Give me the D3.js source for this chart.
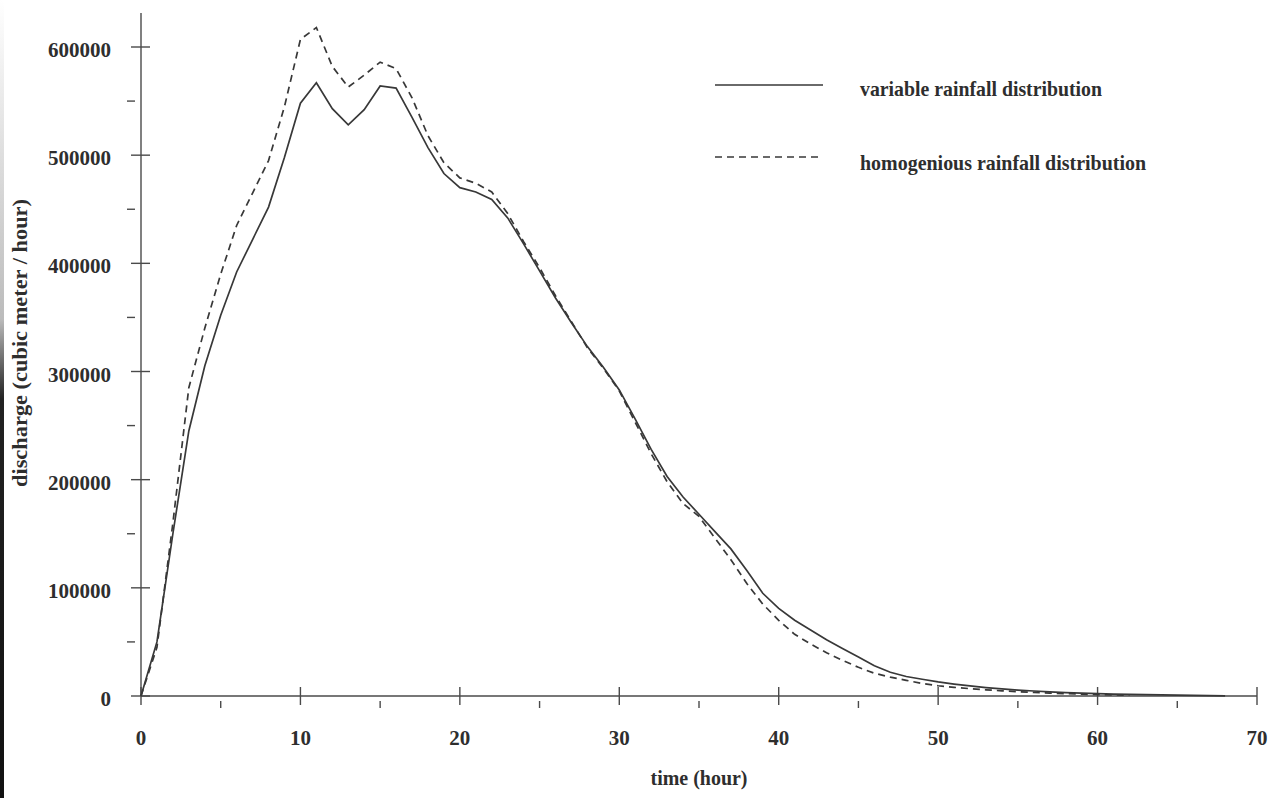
<!DOCTYPE html>
<html>
<head>
<meta charset="utf-8">
<script src="https://cdn.jsdelivr.net/npm/d3@7"></script>
<style>
  html, body { margin: 0; padding: 0; background: #fff; }
  svg { display: block; }
  text { font-family: "Liberation Serif", "DejaVu Serif", serif; fill: #2e2e2e; }
</style>
</head>
<body>
<svg id="chart" width="1282" height="798"></svg>
<script>
// ---- data ----
const hours = d3.range(0, 69);
const variableRain = [
  0, 50000, 150000, 245000, 305000, 352000, 392000, 422000, 452000, 498000,
  548000, 567000, 543000, 528000, 542000, 564000, 562000, 535000, 507000, 483000,
  470000, 466000, 459000, 442000, 418000, 393000, 368000, 345000, 323000, 304000,
  283000, 256000, 228000, 203000, 184000, 168000, 152000, 136000, 116000, 95000,
  81000, 70000, 61000, 52000, 44000, 36000, 28000, 22000, 18000, 15500,
  13000, 11000, 9300, 7800, 6500, 5500, 4600, 3800, 3100, 2600,
  2200, 1800, 1500, 1200, 1000, 800, 600, 400, 200
];
const homogeneousRain = [
  0, 45000, 160000, 285000, 340000, 390000, 435000, 465000, 495000, 545000,
  607000, 618000, 582000, 563000, 574000, 586000, 580000, 553000, 518000, 493000,
  479000, 474000, 466000, 446000, 420000, 396000, 370000, 346000, 322000, 303000,
  282000, 253000, 224000, 198000, 178000, 166000, 146000, 126000, 104000, 85000,
  70000, 57000, 48000, 40000, 33000, 26500, 21000, 17500, 14500, 11500,
  9500, 8000, 6800, 5700, 4800, 4000, 3300, 2700, 2200, 1700,
  1300, 1000, 700
];
const xMajorTicks = [0, 10, 20, 30, 40, 50, 60, 70];
const xMinorTicks = [5, 15, 25, 35, 45, 55, 65];
const yMajorTicks = [0, 100000, 200000, 300000, 400000, 500000, 600000];
const yMinorTicks = [50000, 150000, 250000, 350000, 450000, 550000];
const legendLabels = ["variable rainfall distribution", "homogenious rainfall distribution"];
const xTitle = "time (hour)";
const yTitle = "discharge (cubic meter / hour)";

// ---- layout ----
const svg = d3.select("#chart");
const x = d3.scaleLinear().domain([0, 70]).range([141, 1257]);
const y = d3.scaleLinear().domain([0, 600000]).range([696, 47]);
const axisColor = "#4a4a4a";
const lineColor = "#383838";

// scan edge strip on the left
const defs = svg.append("defs");
const grad = defs.append("linearGradient").attr("id", "edge").attr("x1", 0).attr("x2", 0).attr("y1", 0).attr("y2", 1);
grad.append("stop").attr("offset", "0%").attr("stop-color", "#fff");
grad.append("stop").attr("offset", "40%").attr("stop-color", "#bbb");
grad.append("stop").attr("offset", "50%").attr("stop-color", "#222");
grad.append("stop").attr("offset", "100%").attr("stop-color", "#111");
svg.append("rect").attr("x", 0).attr("y", 0).attr("width", 4).attr("height", 798).attr("fill", "url(#edge)");

// ---- axes ----
const gx = svg.append("g");
gx.append("line").attr("x1", x(0)).attr("x2", x(70)).attr("y1", y(0)).attr("y2", y(0))
  .attr("stroke", axisColor).attr("stroke-width", 1.4);
gx.selectAll(".xmaj").data(xMajorTicks).join("line")
  .attr("x1", d => x(d)).attr("x2", d => x(d)).attr("y1", y(0) - 9).attr("y2", y(0) + 9)
  .attr("stroke", axisColor).attr("stroke-width", 1.4);
gx.selectAll(".xmin").data(xMinorTicks).join("line")
  .attr("x1", d => x(d)).attr("x2", d => x(d)).attr("y1", y(0) + 5).attr("y2", y(0) + 12)
  .attr("stroke", axisColor).attr("stroke-width", 1.4);
gx.selectAll(".xlab").data(xMajorTicks).join("text")
  .attr("x", d => x(d)).attr("y", 745).attr("text-anchor", "middle")
  .attr("font-size", 21).attr("font-weight", "bold").text(d => d);

const gy = svg.append("g");
gy.append("line").attr("x1", x(0)).attr("x2", x(0)).attr("y1", 13).attr("y2", y(0))
  .attr("stroke", axisColor).attr("stroke-width", 1.4);
gy.selectAll(".ymaj").data(yMajorTicks).join("line")
  .attr("x1", x(0) - 10).attr("x2", x(0) + 9).attr("y1", d => y(d)).attr("y2", d => y(d))
  .attr("stroke", axisColor).attr("stroke-width", 1.4);
gy.selectAll(".ymin").data(yMinorTicks).join("line")
  .attr("x1", x(0) - 14).attr("x2", x(0) - 6).attr("y1", d => y(d)).attr("y2", d => y(d))
  .attr("stroke", axisColor).attr("stroke-width", 1.4);
gy.selectAll(".ylab").data(yMajorTicks).join("text")
  .attr("x", 111).attr("y", d => y(d) + 10).attr("text-anchor", "end")
  .attr("font-size", 21).attr("font-weight", "bold")
  .attr("textLength", d => String(d).length * 10.5).attr("lengthAdjust", "spacingAndGlyphs")
  .text(d => d);

// axis titles
svg.append("text").attr("x", x(35)).attr("y", 785).attr("text-anchor", "middle")
  .attr("font-size", 21).attr("font-weight", "bold")
  .attr("textLength", 97).attr("lengthAdjust", "spacingAndGlyphs").text(xTitle);
svg.append("text").attr("transform", "translate(27,343) rotate(-90)").attr("text-anchor", "middle")
  .attr("font-size", 21).attr("font-weight", "bold")
  .attr("textLength", 288).attr("lengthAdjust", "spacingAndGlyphs").text(yTitle);

// ---- lines ----
const line = d3.line().x(d => x(d[0])).y(d => y(d[1]));
const varPts = variableRain.map((v, i) => [hours[i], v]);
const homPts = homogeneousRain.map((v, i) => [hours[i], v]);
svg.append("path").datum(homPts).attr("d", line).attr("fill", "none")
  .attr("stroke", lineColor).attr("stroke-width", 1.7).attr("stroke-dasharray", "7,5");
svg.append("path").datum(varPts).attr("d", line).attr("fill", "none")
  .attr("stroke", lineColor).attr("stroke-width", 1.7);

// ---- legend ----
const lg = svg.append("g");
lg.append("line").attr("x1", 715).attr("x2", 823).attr("y1", 85).attr("y2", 85)
  .attr("stroke", lineColor).attr("stroke-width", 1.3);
lg.append("line").attr("x1", 715).attr("x2", 823).attr("y1", 157).attr("y2", 157)
  .attr("stroke", lineColor).attr("stroke-width", 1.3).attr("stroke-dasharray", "7,5");
lg.append("text").attr("x", 860).attr("y", 96).attr("font-size", 21).attr("font-weight", "bold")
  .attr("textLength", 242).attr("lengthAdjust", "spacingAndGlyphs").text(legendLabels[0]);
lg.append("text").attr("x", 860).attr("y", 170).attr("font-size", 21).attr("font-weight", "bold")
  .attr("textLength", 286).attr("lengthAdjust", "spacingAndGlyphs").text(legendLabels[1]);
</script>
</body>
</html>
